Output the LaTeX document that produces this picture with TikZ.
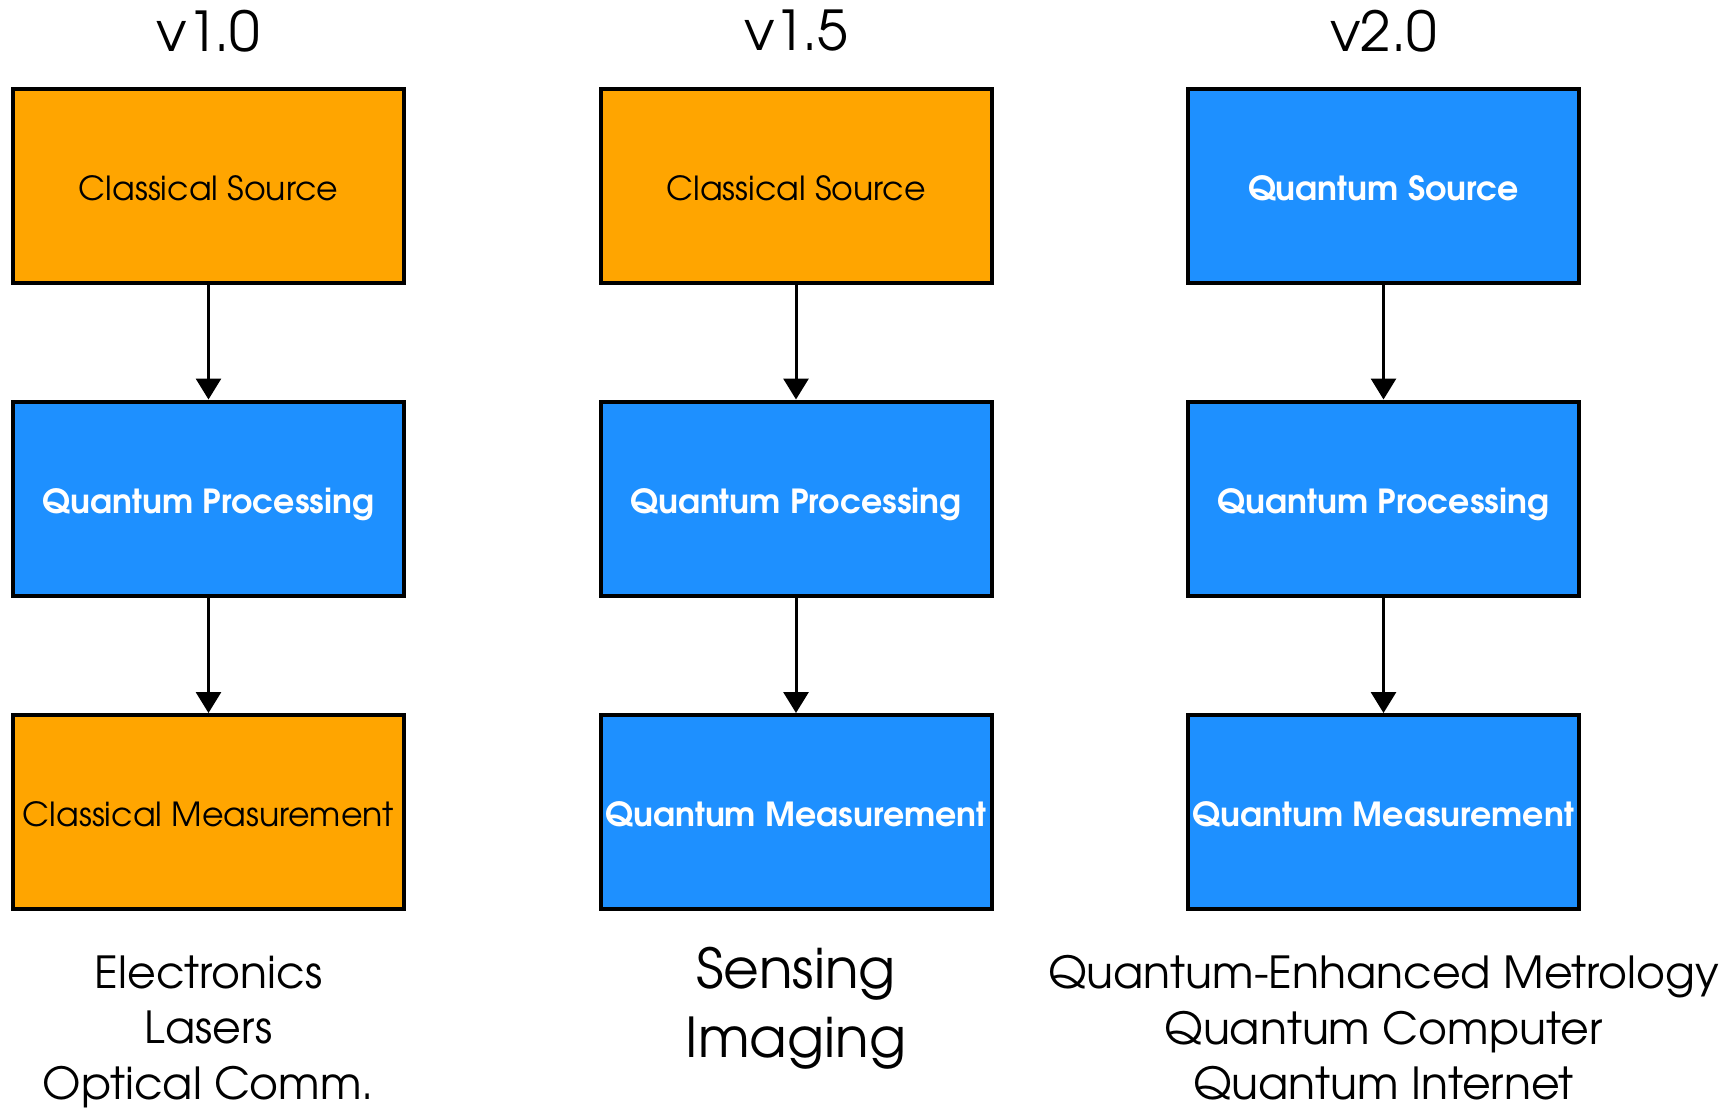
\documentclass[tikz,border=0pt]{standalone}
\usepackage{fontspec}
\setmainfont{TeX Gyre Adventor}
\usetikzlibrary{arrows.meta}
\definecolor{corange}{HTML}{FFA500}
\definecolor{cblue}{HTML}{1E90FF}
\tikzset{
  box/.style={draw=black, line width=4pt, minimum width=391pt, minimum height=194pt, inner sep=0pt, text height=29pt, text depth=0pt, font=\fontsize{33.2}{40}\selectfont},
  classical/.style={box, fill=corange, text=black},
  quantum/.style={box, fill=cblue, text=white, font=\fontsize{33.2}{40}\selectfont\bfseries},
  flow/.style={line width=3pt, -{Triangle[width=25pt,length=21pt]}},
  title/.style={font=\fontsize{55}{60}\selectfont, inner sep=0pt},
  apps/.style={font=\fontsize{44.2}{55.5}\selectfont, align=center, inner sep=0pt},
  appsbig/.style={font=\fontsize{55}{69}\selectfont, align=center, inner sep=0pt}
}
\begin{document}
\begin{tikzpicture}[x=1pt,y=-1pt]
\path[use as bounding box, fill=white] (0,0) rectangle (1734,1109);
% column 1
\node[title] (t1) at (208.5,31) {v1.0};
\node[classical] (s1) at (208.5,186) {Classical Source};
\node[quantum] (p1) at (208.5,498.5) {Quantum Processing};
\node[classical] (m1) at (208.5,812) {Classical Measurement};
\node[apps] (a1) at (208.5,1031.5) {Electronics\\Lasers\\Optical Comm.};
% column 2
\node[title] (t2) at (796,31) {v1.5};
\node[classical] (s2) at (796,186) {Classical Source};
\node[quantum] (p2) at (796,498.5) {Quantum Processing};
\node[quantum] (m2) at (796,812) {Quantum Measurement};
\node[appsbig] (a2) at (796,1008.5) {Sensing\\Imaging};
% column 3
\node[title] (t3) at (1383.5,31) {v2.0};
\node[quantum] (s3) at (1383.5,186) {Quantum Source};
\node[quantum] (p3) at (1383.5,498.5) {Quantum Processing};
\node[quantum] (m3) at (1383.5,812) {Quantum Measurement};
\node[apps] (a3) at (1383.5,1028) {Quantum-Enhanced Metrology\\Quantum Computer\\Quantum Internet};
% arrows
\foreach \c in {1,2,3}{
  \draw[flow] (s\c.south) -- (p\c.north);
  \draw[flow] (p\c.south) -- (m\c.north);
}
\end{tikzpicture}
\end{document}
